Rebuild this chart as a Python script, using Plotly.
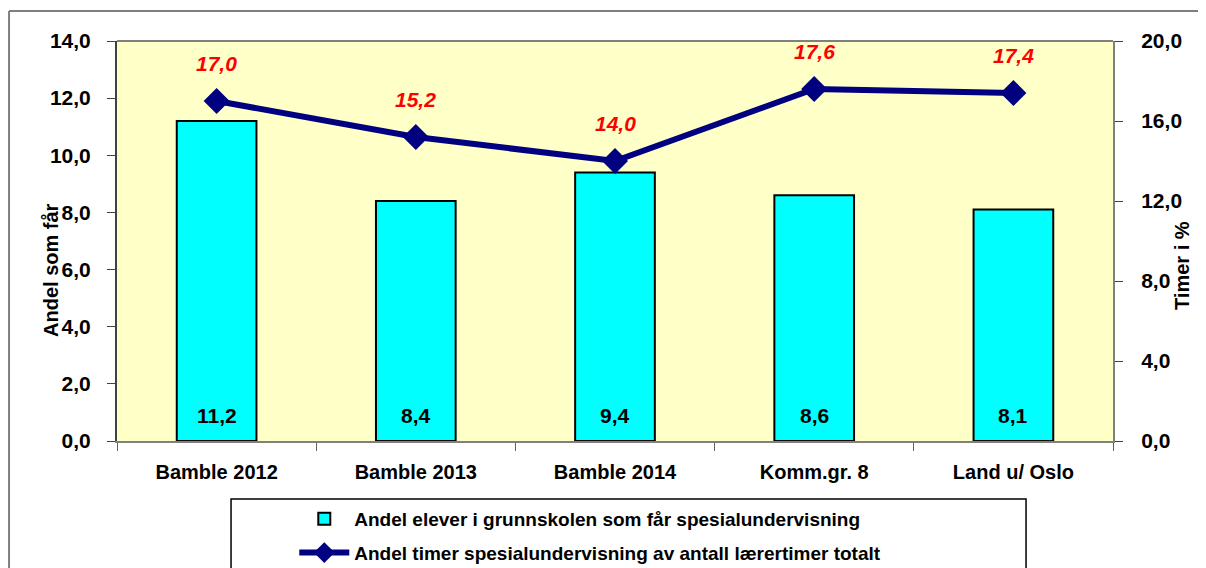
import plotly.graph_objects as go

categories = ["Bamble 2012", "Bamble 2013", "Bamble 2014", "Komm.gr. 8", "Land u/ Oslo"]
andel_elever = [11.2, 8.4, 9.4, 8.6, 8.1]
andel_timer = [17.0, 15.2, 14.0, 17.6, 17.4]
left_ticks = [0, 2, 4, 6, 8, 10, 12, 14]
right_ticks = [0, 4, 8, 12, 16, 20]

FONT = "Liberation Sans Narrow, Arial Narrow, Liberation Sans, Arial, sans-serif"

def fmt(v):
    return f"{v:.1f}".replace(".", ",")

fig = go.Figure()
fig.add_trace(go.Bar(
    x=categories, y=andel_elever,
    name="<b>Andel elever i grunnskolen som får spesialundervisning</b>",
    marker=dict(color="#00FFFF", line=dict(color="black", width=2)),
    yaxis="y", legendgroup="a",
))
fig.add_trace(go.Scatter(
    x=categories, y=andel_timer,
    name="<b>Andel timer spesialundervisning av antall lærertimer totalt</b>",
    mode="lines+markers",
    line=dict(color="#000080", width=6),
    marker=dict(symbol="diamond", size=20, color="#000080"),
    yaxis="y2", legendgroup="b",
))

annotations = []
for c, v in zip(categories, andel_elever):
    annotations.append(dict(x=c, y=0, xref="x", yref="y", text=f"<b>{fmt(v)}</b>",
                            showarrow=False, yanchor="middle", yshift=26,
                            font=dict(family=FONT, size=21, color="black")))
for c, v in zip(categories, andel_timer):
    annotations.append(dict(x=c, y=v, xref="x", yref="y2", text=f"<b><i>{fmt(v)}</i></b>",
                            showarrow=False, yanchor="middle", yshift=38,
                            font=dict(family=FONT, size=21, color="#FF0000")))
annotations.append(dict(x=-0.0663, y=0.4275, xref="paper", yref="paper",
                        text="<b>Andel som får</b>", textangle=-90, showarrow=False,
                        xanchor="center", yanchor="middle",
                        font=dict(family=FONT, size=20, color="black")))
annotations.append(dict(x=1.0693, y=0.4375, xref="paper", yref="paper",
                        text="<b>Timer i %</b>", textangle=-90, showarrow=False,
                        xanchor="center", yanchor="middle",
                        font=dict(family=FONT, size=20, color="black")))

# page body has an 8px margin, so the figure is 8px smaller and sits 8px in
fig.update_layout(
    width=1198, height=560,
    margin=dict(l=109, r=93, t=33, b=127, autoexpand=False),
    paper_bgcolor="white",
    plot_bgcolor="#FFFFC8",
    separators=", ",
    bargap=0.6,
    showlegend=True,
    font=dict(family=FONT, color="black"),
    xaxis=dict(
        type="category", tickson="boundaries", ticks="outside", ticklen=8,
        tickcolor="#606060", showline=True, linecolor="#808080", linewidth=2,
        tickvals=categories, ticktext=[f"<b>{c}</b>" for c in categories],
        tickfont=dict(family=FONT, size=20, color="black"),
        ticklabelstandoff=12, showgrid=False, automargin=False,
    ),
    yaxis=dict(
        range=[0, 14], tickvals=left_ticks, ticktext=[f"<b>{fmt(t)}</b>" for t in left_ticks],
        ticks="outside", ticklen=8, tickcolor="#404040",
        showline=True, linecolor="#404040", linewidth=2, showgrid=False, zeroline=False,
        tickfont=dict(family=FONT, size=21, color="black"),
        ticklabelstandoff=12, automargin=False,
    ),
    yaxis2=dict(
        range=[0, 20], tickvals=right_ticks, ticktext=[f"<b>{fmt(t)}</b>" for t in right_ticks],
        overlaying="y", side="right",
        ticks="outside", ticklen=8, tickcolor="#404040",
        showline=True, linecolor="#808080", linewidth=2, showgrid=False, zeroline=False,
        tickfont=dict(family=FONT, size=21, color="black"),
        ticklabelstandoff=14, automargin=False,
    ),
    legend=dict(
        x=0.178, y=-0.1475, xanchor="left", yanchor="top",
        bgcolor="rgba(0,0,0,0)", borderwidth=0,
        font=dict(family=FONT, size=19, color="black"),
        itemwidth=50, traceorder="grouped", tracegroupgap=6,
    ),
    annotations=annotations,
    shapes=[
        dict(type="line", xref="paper", yref="paper", x0=0, x1=1, y0=1, y1=1,
             line=dict(color="#808080", width=2)),
        dict(type="line", xref="paper", yref="paper", x0=-0.1084, x1=1.2, y0=1.075, y1=1.075,
             line=dict(color="black", width=1)),
        dict(type="line", xref="paper", yref="paper", x0=-0.1084, x1=-0.1084, y0=1.075, y1=-0.4,
             line=dict(color="#808080", width=2)),
        dict(type="rect", xref="paper", yref="paper", x0=0.1145, x1=0.9127, y0=-0.145, y1=-0.5,
             line=dict(color="black", width=1.5), fillcolor="rgba(0,0,0,0)"),
    ],
)

fig.write_html("out.html")
